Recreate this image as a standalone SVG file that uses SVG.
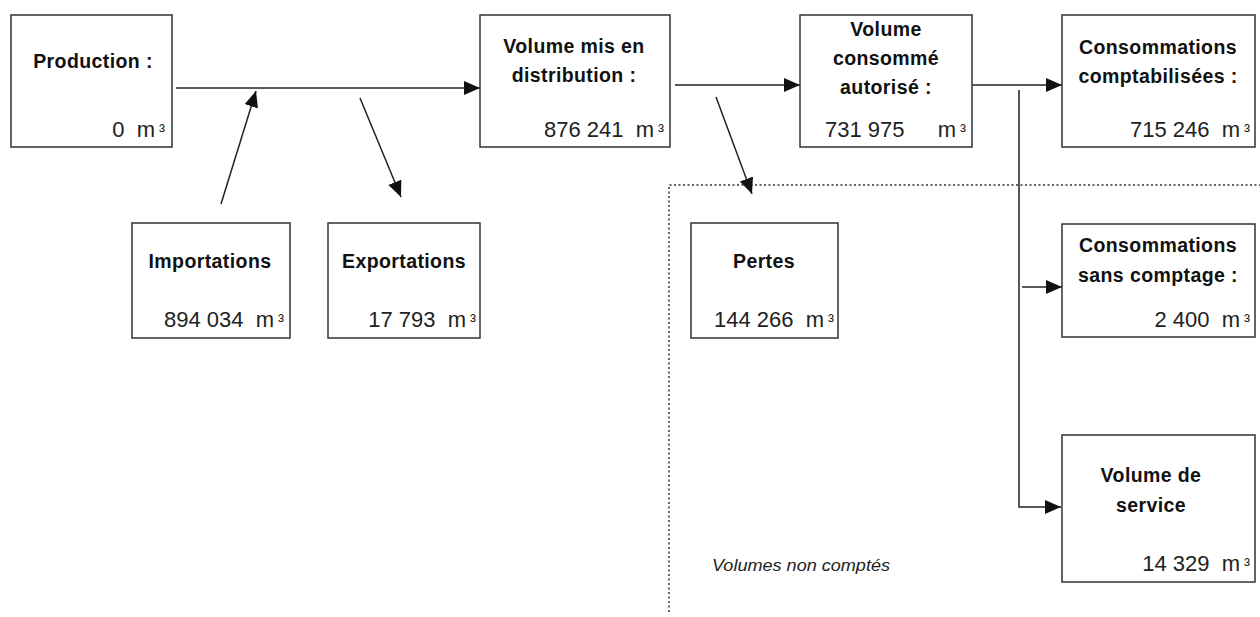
<svg xmlns="http://www.w3.org/2000/svg" width="1260" height="617" viewBox="0 0 1260 617">
<style>
.box{fill:#fff;stroke:#333;stroke-width:1.5}
.lbl{font-family:"Liberation Sans",Arial,sans-serif;font-weight:bold;font-size:19.5px;letter-spacing:0.4px;fill:#111;text-anchor:middle}
.val{font-family:"Liberation Sans",Arial,sans-serif;font-size:22px;fill:#222}
.end{text-anchor:end}
.sup{font-size:18px}
.ln{stroke:#222;stroke-width:1.5;fill:none}
.dot{stroke:#333;stroke-width:1.5;fill:none;stroke-dasharray:2 2.5}
.note{font-family:"Liberation Sans",Arial,sans-serif;font-style:italic;font-size:16px;fill:#222}
</style>
<defs>
<marker id="ah" markerUnits="userSpaceOnUse" markerWidth="18" markerHeight="16" refX="16" refY="7" orient="auto">
<path d="M0,0 L16,7 L0,14 z" fill="#111"/>
</marker>
</defs>
<rect width="1260" height="617" fill="#fff"/>

<g id="dotted-zone">
<path class="dot" d="M669,612 V185 H1260"/>
<text class="note" x="712" y="571" textLength="178" lengthAdjust="spacingAndGlyphs">Volumes non comptés</text>
</g>

<g id="connectors">
<line class="ln" x1="176" y1="88" x2="480" y2="88" marker-end="url(#ah)"/>
<line class="ln" x1="221" y1="204" x2="256" y2="91" marker-end="url(#ah)"/>
<line class="ln" x1="360" y1="98" x2="401" y2="197" marker-end="url(#ah)"/>
<line class="ln" x1="675" y1="85" x2="800" y2="85" marker-end="url(#ah)"/>
<line class="ln" x1="716" y1="97" x2="752" y2="194" marker-end="url(#ah)"/>
<line class="ln" x1="972" y1="85" x2="1062" y2="85" marker-end="url(#ah)"/>
<path class="ln" d="M1019,90 V507 H1061" marker-end="url(#ah)"/>
<line class="ln" x1="1022" y1="287" x2="1062" y2="287" marker-end="url(#ah)"/>
</g>

<g id="production">
<rect class="box" x="11" y="15" width="161" height="132"/>
<text class="lbl" x="93" y="68">Production :</text>
<text class="val end" x="165" y="137">0 <tspan dx="6">m</tspan><tspan class="sup" dx="4">³</tspan></text>
</g>

<g id="importations">
<rect class="box" x="132" y="223" width="158" height="115"/>
<text class="lbl" x="210" y="268">Importations</text>
<text class="val end" x="284" y="327">894 034 <tspan dx="6">m</tspan><tspan class="sup" dx="4">³</tspan></text>
</g>

<g id="exportations">
<rect class="box" x="328" y="223" width="152" height="115"/>
<text class="lbl" x="404" y="268">Exportations</text>
<text class="val end" x="476" y="327">17 793 <tspan dx="6">m</tspan><tspan class="sup" dx="4">³</tspan></text>
</g>

<g id="volume-distribution">
<rect class="box" x="480" y="15" width="190" height="132"/>
<text class="lbl" x="574" y="53">Volume mis en</text>
<text class="lbl" x="574" y="82">distribution :</text>
<text class="val end" x="664" y="137">876 241 <tspan dx="6">m</tspan><tspan class="sup" dx="4">³</tspan></text>
</g>

<g id="pertes">
<rect class="box" x="691" y="223" width="147" height="115"/>
<text class="lbl" x="764" y="268">Pertes</text>
<text class="val end" x="834" y="327">144 266 <tspan dx="6">m</tspan><tspan class="sup" dx="4">³</tspan></text>
</g>

<g id="volume-consomme">
<rect class="box" x="800" y="15" width="172" height="132"/>
<text class="lbl" x="886" y="36">Volume</text>
<text class="lbl" x="886" y="65">consommé</text>
<text class="lbl" x="886" y="94">autorisé :</text>
<text class="val" x="825" y="137">731 975</text>
<text class="val end" x="966" y="137">m<tspan class="sup" dx="4">³</tspan></text>
</g>

<g id="consommations-comptabilisees">
<rect class="box" x="1062" y="15" width="193" height="132"/>
<text class="lbl" x="1158" y="54">Consommations</text>
<text class="lbl" x="1158" y="83">comptabilisées :</text>
<text class="val end" x="1250" y="137">715 246 <tspan dx="6">m</tspan><tspan class="sup" dx="4">³</tspan></text>
</g>

<g id="consommations-sans-comptage">
<rect class="box" x="1062" y="224" width="193" height="113"/>
<text class="lbl" x="1158" y="252">Consommations</text>
<text class="lbl" x="1158" y="282">sans comptage :</text>
<text class="val end" x="1250" y="327">2 400 <tspan dx="6">m</tspan><tspan class="sup" dx="4">³</tspan></text>
</g>

<g id="volume-service">
<rect class="box" x="1062" y="435" width="193" height="147"/>
<text class="lbl" x="1151" y="482">Volume de</text>
<text class="lbl" x="1151" y="512">service</text>
<text class="val end" x="1250" y="571">14 329 <tspan dx="6">m</tspan><tspan class="sup" dx="4">³</tspan></text>
</g>
</svg>
